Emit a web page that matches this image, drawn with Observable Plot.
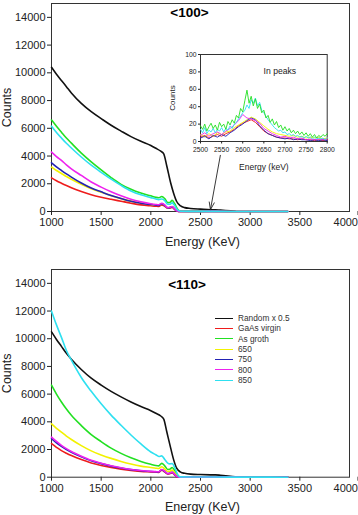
<!DOCTYPE html>
<html><head><meta charset="utf-8">
<script src="https://cdn.jsdelivr.net/npm/d3@7"></script>
<script src="https://cdn.jsdelivr.net/npm/@observablehq/plot@0.6"></script>
<style>
body{margin:0;background:#fff}
#wrap{position:relative;width:358px;height:515px;overflow:hidden;font-family:'Liberation Sans',Arial,sans-serif}
#inset{position:absolute;left:165px;top:45px}
#legend{position:absolute;left:215px;top:313px;font-size:8.3px;color:#333}
.row{display:flex;align-items:center;height:10.33px;white-space:nowrap}
.sw{width:18px;height:0;border-top:1.3px solid;margin-right:5px}
</style></head><body><div id="wrap"></div><script>
// ---- series names & colours
const seriesNames = ["Random x 0.5","GaAs virgin","As groth","650","750","800","850"];
const seriesColors = ["#111111","#ee1c1c","#22e022","#f2f200","#2222b4","#ee22ee","#2ee0f0"];

// ---- axes
const xTicks = [1000,1500,2000,2500,3000,3500];
const xLastTick = [4000];
const yTicks = [0,2000,4000,6000,8000,10000,12000,14000];
const insetXTicks = [2500,2550,2600,2650,2700,2750,2800];
const insetYTicks = [0,20,40,60,80,100];

// ---- main energy grids (keV)
const energyBlack = [1000,1050,1100,1150,1200,1300,1400,1500,1600,1700,1800,1900,2000,2050,2100,2130,2160,2200,2230,2260,2300,2340,2400,2500,2600,2650,2700,2800,2850];
const energyC = [1000,1050,1100,1150,1200,1300,1400,1500,1600,1700,1800,1900,2000,2050,2080,2110,2140,2170,2190,2215,2240,2260,2280,2300,2400,2600,2800,3000,3200,3380];

// ---- <100> panel
const top_random = [10400,9900,9450,9000,8550,7800,7200,6700,6220,5800,5400,5060,4760,4560,4350,4150,3300,2050,1300,720,400,280,220,170,130,130,100,50,20];
const top_virgin = [2430,2220,2040,1870,1710,1440,1210,1030,880,740,600,480,410,380,370,480,380,230,240,300,150,40,8,4,2,5,2,1,1,0];
const top_asgroth = [6600,6150,5720,5300,4930,4210,3580,3000,2450,1960,1600,1330,1130,1020,990,1080,930,640,650,800,560,280,80,20,10,15,5,3,2,0];
const top_650 = [3200,2960,2740,2520,2320,1960,1640,1380,1140,930,750,610,510,470,450,560,440,270,290,350,180,60,10,5,3,6,2,1,1,0];
const top_750 = [3510,3220,2960,2710,2480,2050,1690,1420,1160,940,740,600,500,460,440,560,430,260,280,340,170,50,10,5,3,6,2,1,1,0];
const top_800 = [4280,3960,3680,3370,3080,2600,2130,1760,1420,1130,880,700,560,510,490,600,470,280,300,360,180,60,10,5,3,6,2,1,1,0];
const top_850 = [6150,5700,5300,4920,4580,3930,3340,2820,2330,1880,1480,1200,1000,900,850,900,780,520,520,620,430,200,60,15,8,12,4,3,2,0];

// ---- <110> panel
const bot_random = [10500,9950,9450,8950,8520,7780,7150,6650,6200,5800,5430,5100,4800,4620,4420,4200,3300,2100,1250,650,370,280,220,190,170,165,140,70,20];
const bot_virgin = [2420,2160,1920,1730,1560,1270,1030,850,700,580,480,420,380,360,350,500,380,230,250,320,160,45,8,4,2,4,2,1,1,0];
const bot_asgroth = [6650,6000,5430,4920,4470,3730,3080,2570,2100,1720,1400,1140,930,840,820,1000,820,560,570,700,480,230,60,15,8,10,4,3,2,0];
const bot_650 = [3850,3530,3250,2970,2720,2280,1900,1610,1360,1140,950,800,700,650,630,760,600,410,420,510,320,130,30,8,4,6,2,1,1,0];
const bot_750 = [2780,2480,2220,1990,1800,1470,1180,980,800,660,545,465,410,390,380,540,410,250,280,360,190,55,10,5,3,5,2,1,1,0];
const bot_800 = [2900,2580,2300,2060,1860,1520,1220,1010,830,680,560,480,420,400,390,560,430,260,290,380,200,60,10,5,3,5,2,1,1,0];
const bot_850 = [12000,11000,10100,9150,8450,7200,6200,5300,4480,3750,3050,2400,1820,1620,1500,1540,1280,1020,960,980,700,350,80,20,10,12,5,3,2,0];

// ---- inset ("In peaks"), <100>
const insetE5 = [2500,2505,2510,2515,2520,2525,2530,2535,2540,2545,2550,2555,2560,2565,2570,2575,2580,2585,2590,2595,2600,2605,2610,2615,2620,2625,2630,2635,2640,2645,2650,2655,2660,2665,2670,2675,2680,2685,2690,2695,2700,2705,2710,2715,2720,2725,2730,2735,2740,2745,2750,2755,2760,2765,2770,2775,2780,2785,2790,2795,2800];
const insetE10 = [2500,2510,2520,2530,2540,2550,2560,2570,2580,2590,2600,2610,2620,2630,2640,2650,2660,2670,2680,2690,2700,2710,2720,2730,2740,2750,2760,2770,2780,2790,2800];
const inset_asgroth = [18,14,20,12,17,21,15,19,13,22,17,20,14,23,19,25,21,30,27,38,34,47,59,44,52,41,49,38,43,33,36,27,30,22,26,19,23,16,19,13,17,12,15,10,13,9,12,8,11,7,10,6,9,5,8,4,7,5,8,6,9];
const inset_850 = [14,10,16,9,13,11,15,10,14,12,16,11,15,13,18,15,20,22,26,29,33,36,42,38,48,44,50,41,45,36,33,29,25,22,19,16,14,12,13,10,11,8,9,7,8,6,7,5,6,4,6,4,5,3,5,3,4,3,4,2,4];
const inset_800 = [7,10,6,9,11,8,12,15,19,24,31,27,26,24,21,15,12,9,7,5,6,4,5,3,4,2,3,2,3,2,3];
const inset_750 = [4,6,3,7,5,8,6,10,13,17,20,24,27,25,18,13,9,7,5,4,3,4,2,3,2,2,1,2,1,2,1];
const inset_650 = [8,5,9,6,10,8,11,12,16,19,22,25,28,26,22,18,14,11,9,8,7,6,7,5,6,4,5,4,5,3,4];
const inset_virgin = [5,7,4,6,8,6,9,11,14,18,21,23,25,22,17,12,9,7,5,4,4,3,3,2,3,2,2,1,2,1,2];

// ---- annotation arrow (keV, counts)
const arrowFrom = {x: 2700, y: 4050};
const arrowTo = {x: 2600, y: 130};

const fontFam = "'Liberation Sans', Arial, Helvetica, sans-serif";
const pts = (xs, ys) => xs.map((x, i) => ({x, y: ys[i]}));

function lineMarks(sets, width) {
  return sets.map(([xs, ys, c]) => Plot.line(pts(xs, ys), {x: "x", y: "y", stroke: seriesColors[c], strokeWidth: width, curve: "monotone-x"}));
}

function mainPanel(o) {
  return Plot.plot({
    width: 358, height: o.height, marginTop: o.mt, marginBottom: o.mb, marginLeft: 51, marginRight: 9,
    style: {fontFamily: fontFam, fontSize: "11px", color: "#222", background: "white"},
    x: {domain: [1000, 4000]},
    y: {domain: [0, 15000]},
    marks: [
      Plot.frame({stroke: "#333"}),
      Plot.axisY(yTicks, {tickSize: 4, tickPadding: 2, tickFormat: d3.format("d"), label: null, fontSize: 11}),
      Plot.axisX(xTicks, {tickSize: 4, tickPadding: 3, tickFormat: d3.format("d"), label: null, fontSize: 11}),
      Plot.axisX(xLastTick, {tickSize: 4, tickPadding: 3, tickFormat: d3.format("d"), label: null, fontSize: 11, textAnchor: "end", dx: 8.5}),
      ...lineMarks(o.series, 1.6),
      ...(o.extra || []),
      Plot.text([o.title], {text: d => d, frameAnchor: "top", lineAnchor: "middle", dx: o.tdx, dy: o.tdy, fontWeight: "bold", fontSize: 13.5, fill: "#000"}),
      Plot.text(["Counts"], {text: d => d, frameAnchor: "left", textAnchor: "middle", lineAnchor: "middle", rotate: -90, dx: -45, fontSize: 12.5, fill: "#222"}),
      Plot.text(["Energy (KeV)"], {text: d => d, frameAnchor: "bottom", lineAnchor: "middle", dx: 2, dy: 30, fontSize: 12.5, fill: "#222"})
    ]
  });
}

const wrap = document.getElementById("wrap");

const topChart = mainPanel({
  height: 255, mt: 3, mb: 44, title: "<100>", tdx: -11, tdy: 9.5,
  series: [
    [energyBlack, top_random, 0], [energyC, top_virgin, 1], [energyC, top_asgroth, 2],
    [energyC, top_650, 3], [energyC, top_750, 4], [energyC, top_800, 5], [energyC, top_850, 6]
  ],
  extra: [
    Plot.arrow([{x1: arrowFrom.x, y1: arrowFrom.y, x2: arrowTo.x, y2: arrowTo.y}], {x1: "x1", y1: "y1", x2: "x2", y2: "y2", stroke: "#222", strokeWidth: 0.9, headLength: 13, headAngle: 38})
  ]
});
wrap.appendChild(topChart);

const botChart = mainPanel({
  height: 260, mt: 14, mb: 38.3, title: "<110>", tdx: -13.5, tdy: 15.3,
  series: [
    [energyBlack, bot_random, 0], [energyC, bot_virgin, 1], [energyC, bot_asgroth, 2],
    [energyC, bot_650, 3], [energyC, bot_750, 4], [energyC, bot_800, 5], [energyC, bot_850, 6]
  ]
});
wrap.appendChild(botChart);

// inset
const insetChart = Plot.plot({
  width: 170, height: 132, marginTop: 9, marginBottom: 36, marginLeft: 35, marginRight: 8.3,
  style: {fontFamily: fontFam, fontSize: "6.8px", color: "#222", background: "transparent", overflow: "visible"},
  x: {domain: [2500, 2800]},
  y: {domain: [0, 100]},
  marks: [
    Plot.frame({stroke: "#333", fill: "white"}),
    Plot.axisY(insetYTicks, {tickSize: 2, tickPadding: 2, label: null, fontSize: 6.8}),
    Plot.axisX(insetXTicks, {tickSize: 2.5, tickPadding: 3, tickFormat: d3.format("d"), label: null, fontSize: 6.8}),
    ...[[insetE10, inset_virgin, 1], [insetE10, inset_650, 3], [insetE10, inset_750, 4], [insetE10, inset_800, 5], [insetE5, inset_850, 6], [insetE5, inset_asgroth, 2]]
      .map(([xs, ys, c]) => Plot.line(pts(xs, ys), {x: "x", y: "y", stroke: seriesColors[c], strokeWidth: 0.9})),
    Plot.text(["In peaks"], {text: d => d, frameAnchor: "top", lineAnchor: "middle", dx: 16, dy: 16.7, fontSize: 8.6, fill: "#222"}),
    Plot.text(["Counts"], {text: d => d, frameAnchor: "left", textAnchor: "middle", lineAnchor: "middle", rotate: -90, dx: -28, fontSize: 8, fill: "#222"}),
    Plot.text(["Energy (keV)"], {text: d => d, frameAnchor: "bottom", lineAnchor: "middle", dy: 25.7, fontSize: 8.5, fill: "#222"})
  ]
});
insetChart.id = "inset";
wrap.appendChild(insetChart);

// legend (bottom panel)
const legend = document.createElement("div");
legend.id = "legend";
seriesNames.forEach((name, i) => {
  const row = document.createElement("div");
  row.className = "row";
  const sw = document.createElement("span");
  sw.className = "sw";
  sw.style.borderTopColor = seriesColors[i];
  const t = document.createElement("span");
  t.textContent = name;
  row.appendChild(sw); row.appendChild(t);
  legend.appendChild(row);
});
wrap.appendChild(legend);
</script></body></html>
